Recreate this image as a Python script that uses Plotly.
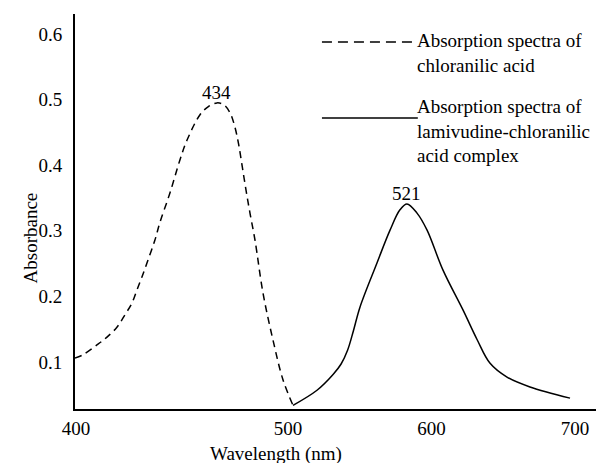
import plotly.graph_objects as go

# x is on the drawn axis scale; the "400" label sits at the axis origin
tick_vals = [352.3, 500, 600, 700]
tick_text = ["400", "500", "600", "700"]

# chloranilic acid (dashed)
acid_x = [351.6, 357.1, 366.9, 373.9, 380.8, 386.4, 391.3, 394.8, 398.3, 402.4, 407.3,
          410.8, 417.8, 424.7, 429.6, 438.7, 444.3, 450.5, 455.4, 459.6, 462.8, 465.6,
          468.2, 470.9, 473.6, 477.0, 482.6, 489.5, 496.5, 503.5]
acid_y = [0.106, 0.111, 0.126, 0.138, 0.153, 0.172, 0.190, 0.210, 0.230, 0.255, 0.286,
          0.313, 0.358, 0.408, 0.438, 0.477, 0.489, 0.495, 0.492, 0.480, 0.460, 0.432,
          0.397, 0.360, 0.326, 0.286, 0.205, 0.134, 0.073, 0.034]

# lamivudine-chloranilic acid complex (solid)
complex_x = [503.5, 520.2, 531.4, 537.0, 541.5, 545.5, 550.2, 562.0, 571.1, 578.0, 582.9,
             589.9, 596.9, 608.0, 622.0, 631.8, 640.8, 652.6, 668.6, 696.5]
complex_y = [0.034, 0.057, 0.081, 0.097, 0.118, 0.147, 0.184, 0.251, 0.301, 0.332, 0.341,
             0.327, 0.301, 0.240, 0.179, 0.134, 0.098, 0.077, 0.062, 0.045]

peak_labels = ["434", "521"]

FONT = "Liberation Serif"

fig = go.Figure()
fig.add_trace(go.Scatter(x=acid_x, y=acid_y, mode="lines",
                         line=dict(color="black", width=1.5, dash="7px,5px",
                                   shape="spline", smoothing=1.0)))
fig.add_trace(go.Scatter(x=complex_x, y=complex_y, mode="lines",
                         line=dict(color="black", width=1.5, shape="spline", smoothing=1.0)))

for xs, ys, lab in [(acid_x, acid_y, peak_labels[0]), (complex_x, complex_y, peak_labels[1])]:
    i = ys.index(max(ys))
    fig.add_annotation(x=xs[i], y=ys[i], text=lab, showarrow=False,
                       yanchor="bottom", yshift=-2, font=dict(size=19))

# hand-drawn style legend
fig.add_shape(type="line", xref="paper", yref="paper", x0=0.474, x1=0.647, y0=0.929, y1=0.929,
              line=dict(color="black", width=1.5, dash="10px,6px"))
fig.add_shape(type="line", xref="paper", yref="paper", x0=0.474, x1=0.658, y0=0.737, y1=0.737,
              line=dict(color="black", width=1.5))
fig.add_annotation(xref="paper", yref="paper", x=0.652, y=0.9, xanchor="left", yanchor="middle",
                   align="left", showarrow=False, font=dict(size=19),
                   text="Absorption spectra of<br>chloranilic acid")
fig.add_annotation(xref="paper", yref="paper", x=0.652, y=0.704, xanchor="left", yanchor="middle",
                   align="left", showarrow=False, font=dict(size=19),
                   text="Absorption spectra of<br>lamivudine-chloranilic<br>acid complex")

# axis titles
fig.add_annotation(xref="paper", yref="paper", x=0.386, y=-0.146, text="Wavelength (nm)",
                   showarrow=False, font=dict(size=19), yanchor="bottom")
fig.add_annotation(xref="paper", yref="paper", x=-0.1094, y=0.433, text="Absorbance",
                   showarrow=False, textangle=-90, font=dict(size=19))

fig.update_xaxes(range=[351.6, 714.6], tickvals=tick_vals, ticktext=tick_text,
                 showline=True, linecolor="black", linewidth=2, showgrid=False,
                 zeroline=False, ticks="", ticklabelstandoff=1)
fig.update_yaxes(range=[0.0284, 0.6305], tickvals=[0.1, 0.2, 0.3, 0.4, 0.5, 0.6],
                 tickformat=".1f", showline=True, linecolor="black", linewidth=2,
                 showgrid=False, zeroline=False, ticks="", ticklabelstandoff=7)

fig.update_layout(width=596, height=463, showlegend=False,
                  margin=dict(l=75, r=0, t=14, b=54),
                  plot_bgcolor="white", paper_bgcolor="white",
                  font=dict(family=FONT, size=19, color="black"))

# drop the browser's default body margin so the figure sits at the page corner
fig.write_html("out.html", config={"displayModeBar": False},
               post_script="document.body.style.margin='0';")
